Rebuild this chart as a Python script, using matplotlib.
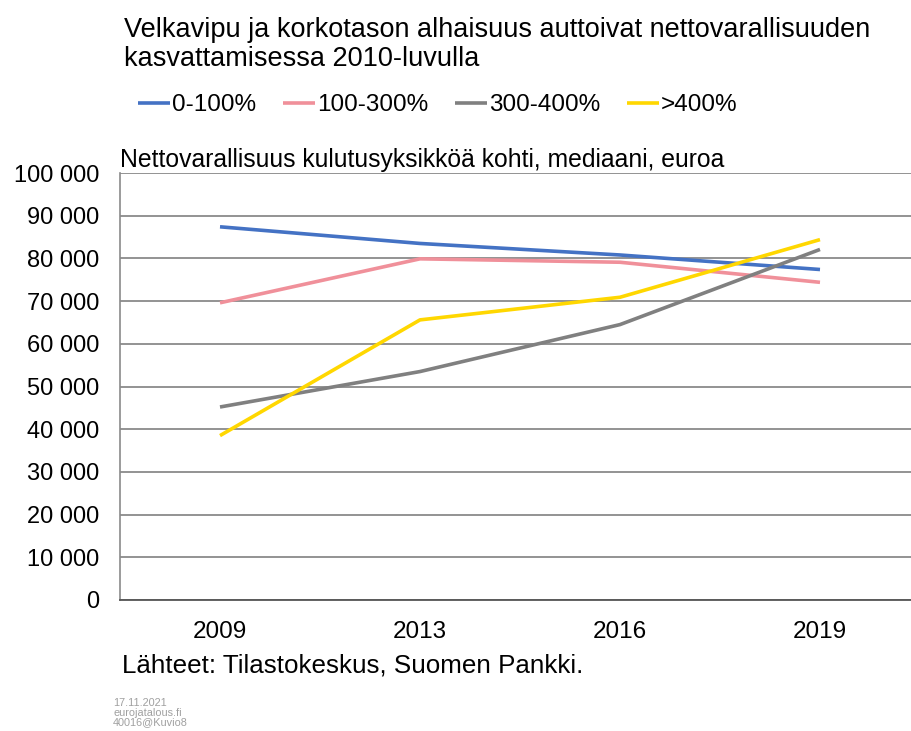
import matplotlib.pyplot as plt
import numpy as np

plt.rcParams['font.family'] = ['Liberation Sans', 'DejaVu Sans']

years = ['2009', '2013', '2016', '2019']
s_0_100 = [87400, 83500, 80800, 77400]
s_100_300 = [69600, 79900, 79100, 74400]
s_300_400 = [45200, 53500, 64500, 82100]
s_400 = [38500, 65600, 70900, 84400]
series_names = ['0-100%', '100-300%', '300-400%', '>400%']
colors = ['#4472C4', '#F0909A', '#808080', '#FFD700']

fig = plt.figure(figsize=(9.11, 7.31), dpi=100)
ax = fig.add_axes([120 / 911, 1 - 600 / 731, 800 / 911, 427 / 731])

x = np.arange(len(years))
for vals, name, c in zip([s_0_100, s_100_300, s_300_400, s_400], series_names, colors):
    ax.plot(x, vals, color=c, lw=2.6, label=name, solid_capstyle='butt')

ax.set_xlim(-0.5, 3.5)
ax.set_ylim(0, 100000)
ax.set_yticks(np.arange(0, 100001, 10000))
ax.set_yticklabels(['0'] + ['{:,}'.format(v).replace(',', ' ') for v in range(10000, 100001, 10000)])
ax.set_xticks(x)
ax.set_xticklabels(years)
ax.tick_params(axis='both', length=0, colors='black')
ax.tick_params(axis='y', pad=15, labelsize=17)
ax.tick_params(axis='x', pad=15, labelsize=17.5)
ax.grid(axis='y', color='#8a8a8a', lw=1.3)
ax.set_axisbelow(True)
for side in ['top', 'right']:
    ax.spines[side].set_visible(False)
ax.spines['left'].set_color('#8a8a8a')
ax.spines['bottom'].set_color('#555555')
ax.spines['left'].set_linewidth(1.2)
ax.spines['bottom'].set_linewidth(1.3)

fig.text(124 / 911, 1 - 37 / 731,
         'Velkavipu ja korkotason alhaisuus auttoivat nettovarallisuuden',
         fontsize=19.5, va='baseline', ha='left')
fig.text(124 / 911, 1 - 66 / 731, 'kasvattamisessa 2010-luvulla',
         fontsize=19.5, va='baseline', ha='left')
fig.text(120 / 911, 1 - 160 / 731, 'Nettovarallisuus kulutusyksikköä kohti, mediaani, euroa',
         fontsize=17.8, va='center', ha='left')

fig.legend(loc='center left', bbox_to_anchor=(138 / 911, 1 - 105 / 731), ncol=4, frameon=False,
           fontsize=17.5, handlelength=1.32, handletextpad=0.08, columnspacing=1.1,
           borderaxespad=0, borderpad=0)

fig.text(122 / 911, 1 - 665 / 731, 'Lähteet: Tilastokeskus, Suomen Pankki.',
         fontsize=18.7, va='center', ha='left')
fig.text(113 / 911, 1 - 698 / 731, '17.11.2021\neurojatalous.fi\n40016@Kuvio8',
         fontsize=7.8, va='top', ha='left', color='#a0a0a0', linespacing=0.95)

fig.savefig('out.png', dpi=100)
